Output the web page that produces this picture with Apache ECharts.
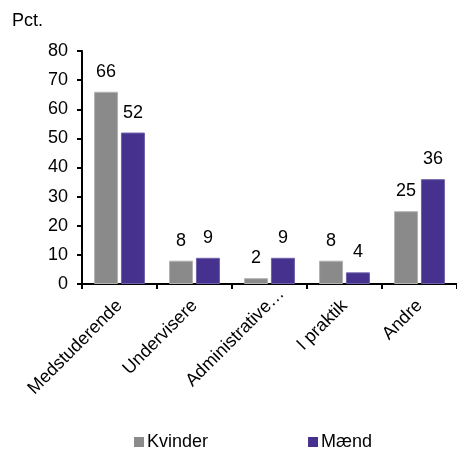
<!DOCTYPE html>
<html>
<head>
<meta charset="utf-8">
<script src="https://cdn.jsdelivr.net/npm/echarts@6/dist/echarts.min.js"></script>
<style>
html,body{margin:0;padding:0;background:#fff;}
#chart{width:457px;height:449px;}
</style>
</head>
<body>
<div id="chart"></div>
<script>
const categories = ['Medstuderende', 'Undervisere', 'Administrative…', 'I praktik', 'Andre'];
const kvinder = [66, 8, 2, 8, 25];
const maend = [52, 9, 9, 4, 36];
const seriesNames = ['Kvinder', 'Mænd'];
const yTicks = { min: 0, max: 80, interval: 10 };
const unitLabel = 'Pct.';

const FONT = 'Liberation Sans, Arial, sans-serif';
const chart = echarts.init(document.getElementById('chart'), null, { renderer: 'canvas' });
const labelStyle = { show: true, position: 'top', distance: 11, fontSize: 18, color: '#000', fontFamily: FONT };
const catData = categories.map(function (c, i) {
  return i === 2 ? { value: c, textStyle: { padding: [0, -17, 0, 0] } } : c;
});
chart.setOption({
  animation: false,
  textStyle: { fontFamily: FONT },
  graphic: [{
    type: 'text', left: 12, top: 12,
    style: { text: unitLabel, font: '18px ' + FONT, fill: '#000' }
  }],
  grid: { left: 82, top: 51, width: 380, height: 233, containLabel: false },
  legend: {
    left: 134, top: 433, padding: 0,
    itemWidth: 10, itemHeight: 10, itemGap: 100,
    icon: 'rect',
    itemStyle: { borderWidth: 0 },
    textStyle: { fontSize: 18, color: '#000', fontFamily: FONT, padding: [0, 0, 0, -2] },
    data: seriesNames
  },
  xAxis: {
    type: 'category',
    data: catData,
    axisLine: { lineStyle: { color: '#000', width: 2 } },
    axisTick: { show: true, length: 5, lineStyle: { color: '#000', width: 2 } },
    axisLabel: { rotate: 45, fontSize: 18, color: '#000', margin: 19, interval: 0, fontFamily: FONT }
  },
  yAxis: {
    type: 'value',
    min: yTicks.min, max: yTicks.max, interval: yTicks.interval,
    splitLine: { show: false },
    axisLine: { show: true, lineStyle: { color: '#000', width: 2 } },
    axisTick: { show: true, length: 5, lineStyle: { color: '#000', width: 2 } },
    axisLabel: { fontSize: 18, color: '#000', margin: 14, fontFamily: FONT }
  },
  series: [
    { name: seriesNames[0], type: 'bar', data: kvinder, barWidth: 24, barGap: '12%',
      itemStyle: { color: '#8a8a8a', borderColor: '#b3b3b3', borderWidth: 1 }, label: labelStyle },
    { name: seriesNames[1], type: 'bar', data: maend, barWidth: 24,
      itemStyle: { color: '#46328e', borderColor: '#6f61ab', borderWidth: 1 }, label: labelStyle }
  ]
});
</script>
</body>
</html>
